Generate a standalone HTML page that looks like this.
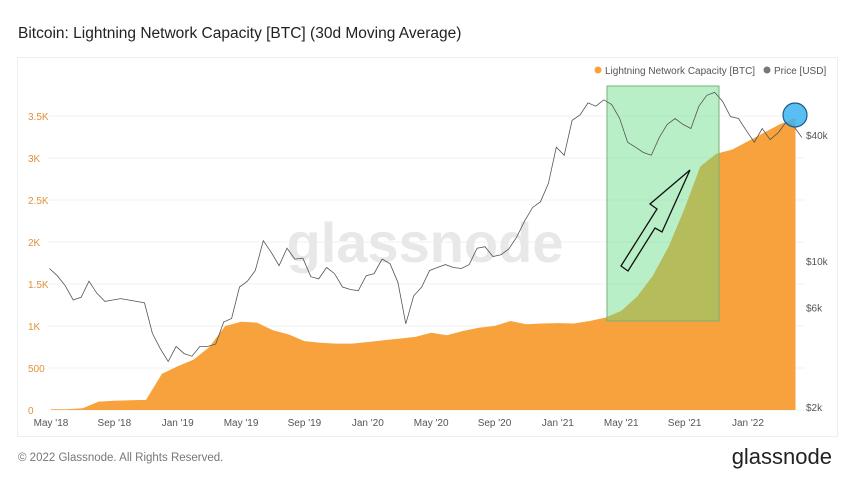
<!DOCTYPE html>
<html><head><meta charset="utf-8"><style>
body{margin:0;background:#fff;font-family:"Liberation Sans",sans-serif;}
svg text{font-family:"Liberation Sans",sans-serif;}
</style></head><body>
<svg width="850" height="478" viewBox="0 0 850 478">
<text x="18" y="38" font-size="15.5" fill="#222">Bitcoin: Lightning Network Capacity [BTC] (30d Moving Average)</text>
<rect x="17.5" y="57.5" width="820" height="379" fill="#fff" stroke="#eceef0"/>
<g id="grid"></g>
<text x="425" y="262" font-size="56" fill="#e8e8e8" text-anchor="middle" font-weight="bold">glassnode</text>
<path id="capArea" fill="#f7a23c"/>
<rect x="607" y="86" width="112" height="235" fill="rgba(100,220,130,0.45)" stroke="#7ab07a" stroke-width="1"/>
<path id="priceLine" fill="none" stroke="#555" stroke-width="0.8"/>
<polygon points="621,266 628,271 655,228 662,232 690,170 650,204 657,209" fill="none" stroke="#111" stroke-width="1.3"/>
<circle cx="795" cy="115" r="12" fill="rgba(60,180,240,0.85)" stroke="#1a5a8a" stroke-width="1.2"/>
<g id="yl"></g><g id="yr"></g><g id="xl"></g>
<circle cx="598" cy="70" r="3.5" fill="#f7a23c"/>
<text x="605" y="74" font-size="10" fill="#555">Lightning Network Capacity [BTC]</text>
<circle cx="767" cy="70" r="3.5" fill="#777"/>
<text x="774" y="74" font-size="10" fill="#555">Price [USD]</text>
<text x="18" y="461" font-size="11.5" fill="#777">© 2022 Glassnode. All Rights Reserved.</text>
<text x="832" y="464" font-size="22" fill="#222" text-anchor="end">glassnode</text>
</svg>
<script>
const capValues=[10,10,20,100,110,115,120,430,520,600,750,1000,1050,1040,950,900,820,800,790,790,810,830,850,870,920,890,940,980,1000,1060,1020,1030,1035,1030,1060,1100,1180,1350,1600,1950,2400,2900,3050,3100,3200,3300,3400,3480];
const priceValues=[9200,8500,7600,6500,6700,8000,7000,6400,6500,6600,6500,6400,6300,4500,3800,3300,3900,3600,3500,3900,3900,4000,5100,5300,7500,8000,9000,12500,11000,9500,11500,10200,10300,8400,8200,9300,8700,7500,7300,7200,8500,8700,10200,9700,7900,5000,6800,7500,9000,9300,9600,9300,9200,9600,11500,11700,10500,10700,11400,13000,15500,18000,19200,23500,35000,32000,47000,50000,57000,55000,59000,56000,48000,37000,35000,33000,32000,39000,45000,48000,45000,43000,55000,62000,64000,58000,49000,48000,42000,37000,43000,38000,41000,46000,44000,39000];
const capTicks=[0,500,1000,1500,2000,2500,3000,3500];
const capTickLabels=["0","500","1K","1.5K","2K","2.5K","3K","3.5K"];
const priceTicks=[2000,6000,10000,40000];
const priceTickLabels=["$2k","$6k","$10k","$40k"];
const xTickMonths=[0,4,8,12,16,20,24,28,32,36,40,44];
const xTickLabels=["May '18","Sep '18","Jan '19","May '19","Sep '19","Jan '20","May '20","Sep '20","Jan '21","May '21","Sep '21","Jan '22"];
const NS="http://www.w3.org/2000/svg";
const xS=m=>51+m*15.84;
const yC=v=>410-v*0.084;
const yP=p=>407-(Math.log10(p)-Math.log10(2000))*209;
function mk(tag,attrs,parent,txt){const e=document.createElementNS(NS,tag);for(const k in attrs)e.setAttribute(k,attrs[k]);if(txt!==undefined)e.textContent=txt;document.getElementById(parent).appendChild(e);return e;}
capTicks.forEach((v,i)=>{
 const l=mk('line',{x1:48,x2:805,y1:yC(v),y2:yC(v),stroke:'#f0f0f0'},'grid');
 
 
 const t=mk('text',{x:28,y:yC(v)+4,'font-size':10,fill:'#e0913a'},'yl',capTickLabels[i]);
 
 
});
priceTicks.forEach((p,i)=>{
 const t=mk('text',{x:806,y:yP(p)+4,'font-size':10,fill:'#555'},'yr',priceTickLabels[i]);
 
 
});
xTickMonths.forEach((m,i)=>{
 const t=mk('text',{x:xS(m),y:426,'font-size':10,fill:'#555','text-anchor':'middle'},'xl',xTickLabels[i]);
 
 
});
let d='M'+xS(0)+','+yC(0);
capValues.forEach((v,i)=>{d+=' L'+xS(i).toFixed(1)+','+yC(v).toFixed(1);});
d+=' L'+xS(capValues.length-1).toFixed(1)+','+yC(0)+' Z';
document.getElementById('capArea').setAttribute('d',d);
let pd='';
priceValues.forEach((p,i)=>{pd+=(i?' L':'M')+xS(i/2-0.1).toFixed(1)+','+yP(p).toFixed(1);});
document.getElementById('priceLine').setAttribute('d',pd);
</script>
</body></html>
